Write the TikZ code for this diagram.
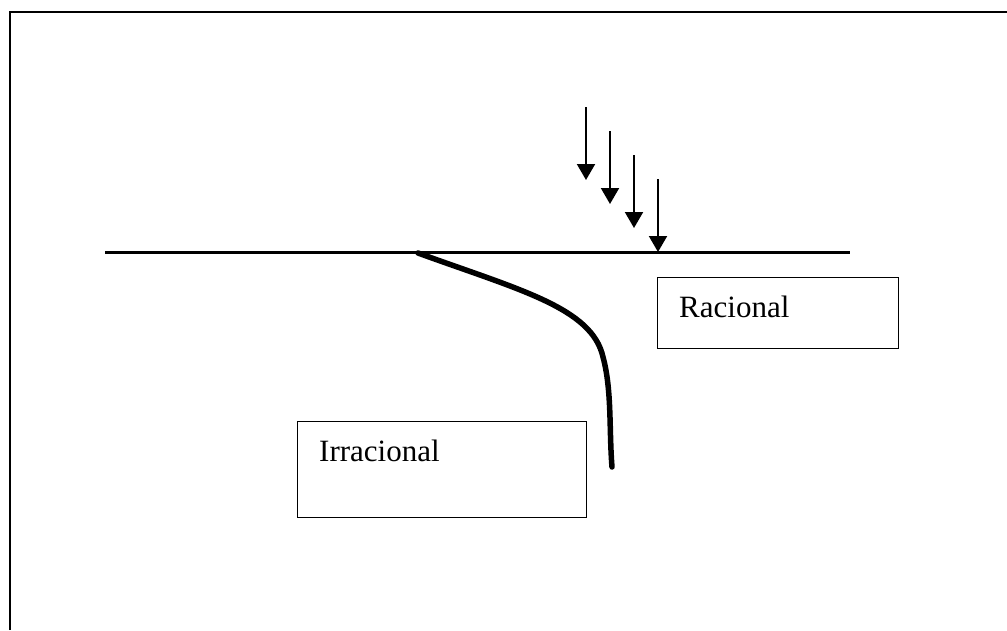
\documentclass[tikz,border=0pt]{standalone}
\usepackage{fontspec}
\setmainfont{Liberation Serif}
\usetikzlibrary{arrows.meta}
\begin{document}
\begin{tikzpicture}[x=1pt,y=-1pt,
  frameline/.style={line width=2pt},
  boxnode/.style={draw,line width=1.4pt,rectangle,inner sep=0pt},
  lbl/.style={anchor=base west,inner sep=0pt,font=\fontsize{31}{37}\selectfont},
  ray/.style={line width=2pt,-{Triangle[width=18pt,length=16pt]}},
  ground/.style={line width=3pt},
  curveline/.style={line width=5.5pt,line cap=round}]
\useasboundingbox (0,0) rectangle (1007,630);
% frame
\draw[frameline] (10,630) -- (10,12) -- (1007,12);
% horizontal line
\coordinate (gl) at (105,252);
\coordinate (gr) at (850,252);
\draw[ground] (gl) -- (gr);
% arrows
\coordinate (a1s) at (586,107); \coordinate (a1e) at (586,180);
\coordinate (a2s) at (610,131); \coordinate (a2e) at (610,204);
\coordinate (a3s) at (634,155); \coordinate (a3e) at (634,228);
\coordinate (a4s) at (658,179); \coordinate (a4e) at (658,252);
\draw[ray] (a1s) -- (a1e);
\draw[ray] (a2s) -- (a2e);
\draw[ray] (a3s) -- (a3e);
\draw[ray] (a4s) -- (a4e);
% curve
\coordinate (cs) at (418,253);
\coordinate (cm) at (603,357);
\coordinate (ce) at (612,467);
\draw[curveline] (cs) .. controls (520,290) and (592,308) .. (cm)
  .. controls (612,390) and (609,430) .. (ce);
% boxes
\node[boxnode,minimum width=241pt,minimum height=71pt,anchor=north west] (rac) at (657,277) {};
\node[lbl] (ractxt) at (679,317) {Racional};
\node[boxnode,minimum width=289pt,minimum height=96pt,anchor=north west] (irr) at (297,421) {};
\node[lbl] (irrtxt) at (319,461) {Irracional};
\end{tikzpicture}
\end{document}
